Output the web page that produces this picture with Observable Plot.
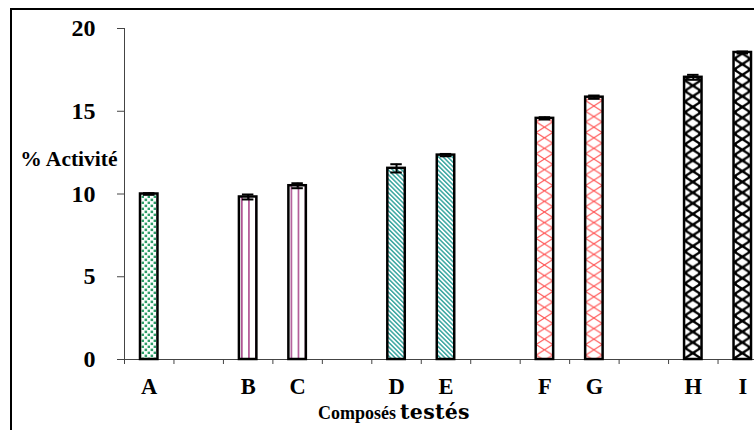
<!DOCTYPE html>
<html>
<head>
<meta charset="utf-8">
<script src="https://cdn.jsdelivr.net/npm/d3@7"></script>
<script src="https://cdn.jsdelivr.net/npm/@observablehq/plot@0.6"></script>
<style>
  html, body { margin: 0; padding: 0; background: white; overflow: hidden; }
  #wrap { position: relative; width: 754px; height: 430px; overflow: hidden; }
  #frame { position: absolute; left: 10px; top: 8px; width: 900px; height: 600px; border: 2.5px solid black; pointer-events: none; }
  #caption { position: absolute; left: 318px; top: 402px; font-family: "Liberation Serif", serif; font-weight: bold; color: black; white-space: nowrap; line-height: 1; }
  #caption .a { font-size: 18px; }
  #caption .b { font-family: "DejaVu Serif", serif; font-size: 20.5px; letter-spacing: 0.3px; }
</style>
</head>
<body>
<div id="wrap">
  <div id="chart"></div>
  <div id="frame"></div>
  <div id="caption"><span class="a">Composés</span> <span class="b">testés</span></div>
</div>
<script>
// ---- data ----
const slots = ["A", null, "B", "C", null, "D", "E", null, "F", "G", null, "H", "I"];
const compounds = ["A", "B", "C", "D", "E", "F", "G", "H", "I"];
const activity = [10.0, 9.82, 10.5, 11.55, 12.35, 14.57, 15.85, 17.05, 18.55];
const errors = [0.05, 0.15, 0.15, 0.25, 0.07, 0.07, 0.1, 0.15, 0.06];
const groups = ["dots", "vstripe", "vstripe", "diag", "diag", "cross", "cross", "check", "check"];
const yTicks = [0, 5, 10, 15, 20];

const bars = compounds.map((c, k) => ({
  name: c,
  i: slots.indexOf(c),
  value: activity[k],
  err: errors[k],
  group: groups[k]
}));

const slotCount = slots.length;
const letterTicks = bars.map(d => d.i + 0.5);

const RECT_INSET = 16;
const CAP_INSET = 19;

const chart = Plot.plot({
  width: 754,
  height: 430,
  marginTop: 28,
  marginBottom: 71,
  marginLeft: 124,
  marginRight: 0,
  x: { domain: [0, slotCount], range: [124, 767] },
  y: { domain: [0, 20] },
  color: { type: "identity" },
  style: { fontFamily: "'Liberation Serif', serif", fontWeight: "bold", fontSize: "22px", color: "black", background: "transparent" },
  marks: [
    Plot.ruleX([0], { stroke: "#444", strokeWidth: 1 }),
    Plot.ruleY([0], { stroke: "#444", strokeWidth: 1 }),
    Plot.axisY({ ticks: yTicks, tickSize: 7, tickPadding: 22, label: null, fontSize: 24, stroke: "#444" }),
    Plot.axisX({ ticks: d3.range(0, slotCount + 1), tickSize: 5, tickFormat: () => "", label: null, stroke: "#444" }),
    Plot.axisX({ ticks: letterTicks, tickSize: 0, tickPadding: 19, tickFormat: d => slots[Math.floor(d)], label: null, fontSize: 22.5 }),
    Plot.rectY(bars, {
      x1: "i", x2: d => d.i + 1, y: "value",
      insetLeft: RECT_INSET, insetRight: RECT_INSET,
      fill: d => `url(#pat-${d.group})`,
      stroke: "black", strokeWidth: 2.5
    }),
    Plot.ruleX(bars, { x: d => d.i + 0.5, y1: d => d.value - d.err, y2: d => d.value + d.err, stroke: "black", strokeWidth: 2 }),
    Plot.ruleY(bars, { x1: "i", x2: d => d.i + 1, y: d => d.value + d.err, insetLeft: CAP_INSET, insetRight: CAP_INSET, stroke: "black", strokeWidth: 2 }),
    Plot.ruleY(bars, { x1: "i", x2: d => d.i + 1, y: d => d.value - d.err, insetLeft: CAP_INSET, insetRight: CAP_INSET, stroke: "black", strokeWidth: 2 }),
    Plot.text(["% Activité"], { frameAnchor: "left", textAnchor: "end", dx: -7, dy: -35, fontSize: 21.5, fontWeight: "bold" })
  ]
});

// ---- fill patterns, aligned on the bars through the x scale ----
const xs = chart.scale("x");
const slotW = xs.apply(1) - xs.apply(0);
const rectLeft = i => xs.apply(i) + RECT_INSET;
const rectW = slotW - 2 * RECT_INSET;
const svg = d3.select(chart);
const defs = svg.insert("defs", ":first-child");

// green dots
{
  const p = defs.append("pattern").attr("id", "pat-dots").attr("patternUnits", "userSpaceOnUse")
    .attr("width", 6).attr("height", 6);
  p.append("rect").attr("width", 6).attr("height", 6).attr("fill", "white");
  p.append("rect").attr("x", 0.6).attr("y", 0.6).attr("width", 2.5).attr("height", 2.5).attr("fill", "#2e9e6a");
  p.append("rect").attr("x", 3.6).attr("y", 3.6).attr("width", 2.5).attr("height", 2.5).attr("fill", "#2e9e6a");
}
// purple vertical stripes
{
  const w = slotW / 7;
  const bi = bars.find(d => d.group === "vstripe").i;
  const p = defs.append("pattern").attr("id", "pat-vstripe").attr("patternUnits", "userSpaceOnUse")
    .attr("x", rectLeft(bi) + 2.2).attr("y", 0).attr("width", w).attr("height", 10);
  p.append("rect").attr("width", w).attr("height", 10).attr("fill", "white");
  p.append("rect").attr("x", 0).attr("width", 1.5).attr("height", 10).attr("fill", "#a8468a");
}
// teal diagonal stripes
{
  const p = defs.append("pattern").attr("id", "pat-diag").attr("patternUnits", "userSpaceOnUse")
    .attr("width", 3.2).attr("height", 10).attr("patternTransform", "rotate(-45)");
  p.append("rect").attr("width", 3.2).attr("height", 10).attr("fill", "white");
  p.append("rect").attr("width", 1.5).attr("height", 10).attr("fill", "#3aa6a0");
}
// red lattice
{
  const w = slotW / 3, h = 10.6;
  const bi = bars.find(d => d.group === "cross").i;
  const x0 = rectLeft(bi) + rectW / 2 - w / 2;
  const p = defs.append("pattern").attr("id", "pat-cross").attr("patternUnits", "userSpaceOnUse")
    .attr("x", x0).attr("y", 0).attr("width", w).attr("height", h);
  p.append("rect").attr("width", w).attr("height", h).attr("fill", "white");
  p.append("path").attr("d", `M${w/2},0L${w},${h/2}L${w/2},${h}L0,${h/2}Z`)
    .attr("fill", "none").attr("stroke", "#ff5555").attr("stroke-width", 1.1);
}
// black ground with white rounded diamonds, staggered
{
  const w = slotW / 3, h = 10.7;
  const a = 4.6, b = 3.1;
  const bi = bars.find(d => d.group === "check").i;
  const x0 = rectLeft(bi) + rectW / 2 - w / 2;
  const p = defs.append("pattern").attr("id", "pat-check").attr("patternUnits", "userSpaceOnUse")
    .attr("x", x0).attr("y", 0).attr("width", w).attr("height", h);
  p.append("rect").attr("width", w).attr("height", h).attr("fill", "black");
  const diamond = (cx, cy) => `M${cx},${cy - b}L${cx + a},${cy}L${cx},${cy + b}L${cx - a},${cy}Z`;
  for (const [cx, cy] of [[w / 2, h / 2], [0, 0], [w, 0], [0, h], [w, h]]) {
    p.append("path").attr("d", diamond(cx, cy)).attr("fill", "white")
      .attr("stroke", "white").attr("stroke-width", 1.6).attr("stroke-linejoin", "round");
  }
}

document.getElementById("chart").appendChild(chart);
</script>
</body>
</html>
